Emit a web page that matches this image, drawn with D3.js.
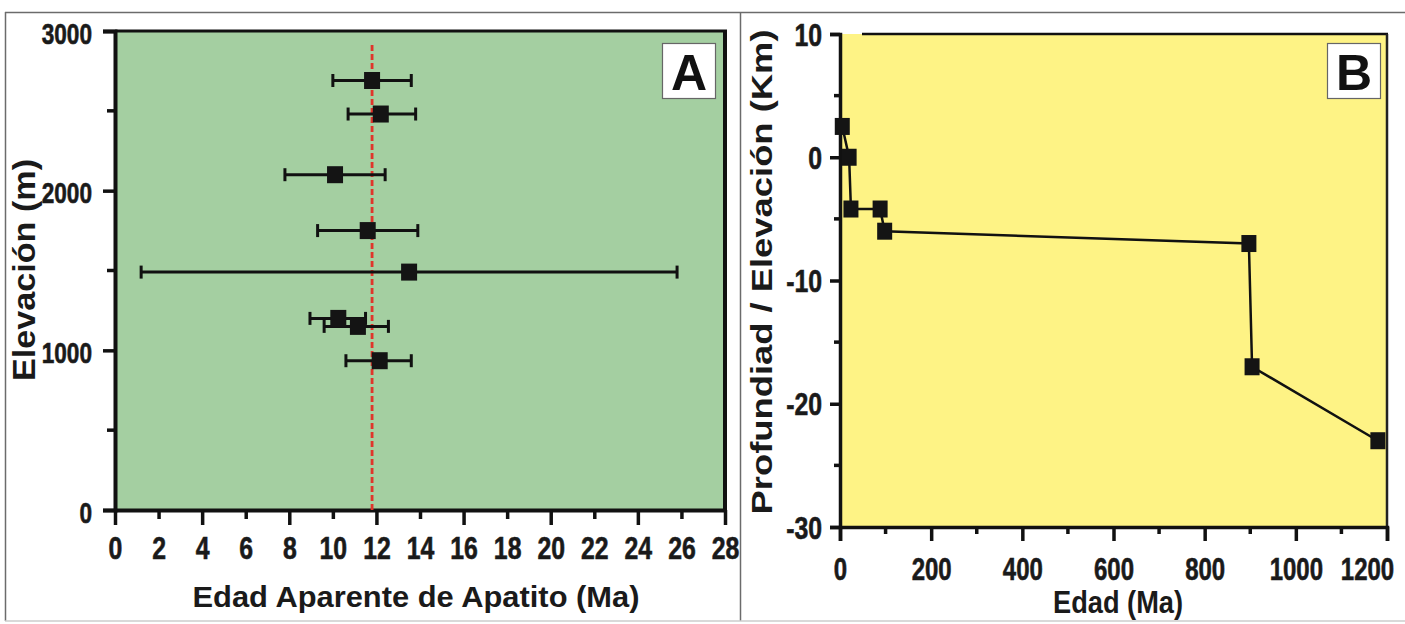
<!DOCTYPE html>
<html><head><meta charset="utf-8">
<script src="https://cdn.jsdelivr.net/npm/d3@7"></script>
<style>
body{margin:0;background:#fff;}
.narrow{font-family:"Liberation Sans",Arial,sans-serif;font-weight:bold;stroke:#1a1a1a;stroke-width:0.6px;}
.wide{font-family:"Liberation Sans",Arial,sans-serif;font-weight:bold;}
</style></head>
<body>
<svg id="c" width="1405" height="624"></svg>
<script>
// ---- Panel A data ----
const elevA   = [2690, 2480, 2100, 1750, 1490, 1200, 1150, 935];
const ageA    = [11.8, 12.2, 10.1, 11.6, 13.5, 10.25, 11.15, 12.15];
const errLoA  = [10.0, 10.7, 7.8, 9.3, 1.2, 8.95, 9.6, 10.6];
const errHiA  = [13.6, 13.8, 12.4, 13.9, 25.8, 11.5, 12.55, 13.6];
const meanAgeA = 11.8;
const xTicksA = [0,2,4,6,8,10,12,14,16,18,20,22,24,26,28];
const yTicksA = [0,1000,2000,3000];
const yMinorA = [500,1500,2500];
// ---- Panel B data ----
const ageB   = [5, 20, 24, 88, 98, 897, 904, 1180];
const depthB = [2.5, 0, -4.2, -4.2, -6, -7, -17, -23];
const xTicksB = [0,200,400,600,800,1000,1200];
const xMinorB = [100,300,500,700,900,1100];
const yTicksB = [10,0,-10,-20,-30];
const yMinorB = [5,-5,-15,-25];

function condense(sel, xPos, ns){
  ns = ns || 0.8;
  sel.attr("class","narrow").attr("x", xPos/ns).attr("transform",`scale(${ns},1)`);
}

const svg = d3.select("#c");
svg.append("rect").attr("width",1405).attr("height",624).attr("fill","#fff");

// outer frame
const fr = svg.append("g").attr("stroke","#6b6b6b").attr("stroke-width",1.5).attr("fill","none");
fr.append("line").attr("x1",5).attr("x2",1405).attr("y1",12.5).attr("y2",12.5);
fr.append("line").attr("x1",5.5).attr("x2",5.5).attr("y1",12).attr("y2",621);
fr.append("line").attr("x1",740.5).attr("x2",740.5).attr("y1",12).attr("y2",621);
fr.append("line").attr("x1",5).attr("x2",1405).attr("y1",621).attr("y2",621).attr("stroke","#ccc");

// ===== Panel A =====
const xA = d3.scaleLinear().domain([0,28]).range([115,725]);
const yA = d3.scaleLinear().domain([0,3000]).range([510,31]);
const gA = svg.append("g");
gA.append("rect").attr("x",xA(0)).attr("y",yA(3000)).attr("width",xA(28)-xA(0)).attr("height",yA(0)-yA(3000)).attr("fill","#a4cfa1");
gA.append("line").attr("x1",xA(0)).attr("x2",xA(28)+2).attr("y1",yA(3000)).attr("y2",yA(3000)).attr("stroke","#111").attr("stroke-width",3);
gA.append("line").attr("x1",xA(28)).attr("x2",xA(28)).attr("y1",yA(3000)).attr("y2",yA(0)).attr("stroke","#111").attr("stroke-width",4);

const axA = gA.append("g").attr("transform",`translate(0,${yA(0)})`)
  .call(d3.axisBottom(xA).tickValues(xTicksA).tickSize(0).tickPadding(0).tickFormat(d3.format("d")));
axA.select(".domain").attr("stroke","#111").attr("stroke-width",4);
axA.selectAll(".tick line").attr("y2",d=>d%4===0?15:9).attr("stroke","#111").attr("stroke-width",3.5);
axA.selectAll(".tick text").call(condense,0,0.8).attr("y",49).attr("dy",0).attr("font-size",31).attr("fill","#1a1a1a");

const ayA = gA.append("g").attr("transform",`translate(${xA(0)},0)`)
  .call(d3.axisLeft(yA).tickValues(yTicksA).tickSize(12).tickPadding(10).tickFormat(d3.format("d")));
ayA.select(".domain").attr("stroke","#111").attr("stroke-width",4);
ayA.selectAll(".tick line").attr("stroke","#111").attr("stroke-width",3.5);
ayA.selectAll(".tick text").call(condense,-23,0.78).attr("font-size",29).attr("dy","0.42em").attr("fill","#1a1a1a");
gA.append("g").selectAll("line").data(yMinorA).join("line")
  .attr("x1",xA(0)-8).attr("x2",xA(0)).attr("y1",d=>yA(d)).attr("y2",d=>yA(d)).attr("stroke","#111").attr("stroke-width",3.5);

gA.append("line").attr("x1",xA(meanAgeA)).attr("x2",xA(meanAgeA)).attr("y1",45).attr("y2",yA(0))
  .attr("stroke","#e0352b").attr("stroke-width",2.8).attr("stroke-dasharray","6,3");

const ptsA = elevA.map((e,i)=>({e, a:ageA[i], lo:errLoA[i], hi:errHiA[i]}));
const eb = gA.append("g").attr("stroke","#111").attr("stroke-width",3);
ptsA.forEach(p=>{
  eb.append("line").attr("x1",xA(p.lo)).attr("x2",xA(p.hi)).attr("y1",yA(p.e)).attr("y2",yA(p.e));
  eb.append("line").attr("x1",xA(p.lo)).attr("x2",xA(p.lo)).attr("y1",yA(p.e)-6.5).attr("y2",yA(p.e)+6.5);
  eb.append("line").attr("x1",xA(p.hi)).attr("x2",xA(p.hi)).attr("y1",yA(p.e)-6.5).attr("y2",yA(p.e)+6.5);
});
gA.append("g").selectAll("rect").data(ptsA).join("rect")
  .attr("x",p=>xA(p.a)-8).attr("y",p=>yA(p.e)-8.5).attr("width",16).attr("height",17).attr("fill","#141414");

gA.append("rect").attr("x",662.5).attr("y",43.5).attr("width",53).attr("height",55).attr("fill","#fff").attr("stroke","#666").attr("stroke-width",1.2);
gA.append("text").attr("class","wide").attr("x",689).attr("y",90).attr("text-anchor","middle").attr("font-size",50).attr("fill","#111").text("A");

gA.append("text").attr("class","wide").attr("transform","translate(35,270) rotate(-90)").attr("text-anchor","middle")
  .attr("font-size",31).attr("fill","#1a1a1a").attr("textLength",222).attr("lengthAdjust","spacingAndGlyphs").text("Elevación (m)");
gA.append("text").attr("class","wide").attr("x",416).attr("y",607).attr("text-anchor","middle")
  .attr("font-size",30).attr("fill","#1a1a1a").attr("textLength",447).attr("lengthAdjust","spacingAndGlyphs").text("Edad Aparente de Apatito (Ma)");

// ===== Panel B =====
const xB = d3.scaleLinear().domain([0,1200]).range([840,1387]);
const yB = d3.scaleLinear().domain([-30,10]).range([527,34]);
const gB = svg.append("g");
gB.append("rect").attr("x",xB(0)).attr("y",yB(10)).attr("width",xB(1200)-xB(0)).attr("height",yB(-30)-yB(10)).attr("fill","#fef385");
gB.append("line").attr("x1",xB(0)+22).attr("x2",xB(1200)+1).attr("y1",yB(10)).attr("y2",yB(10)).attr("stroke","#111").attr("stroke-width",2.5);
gB.append("line").attr("x1",xB(1200)).attr("x2",xB(1200)).attr("y1",yB(10)).attr("y2",yB(-30)).attr("stroke","#222").attr("stroke-width",2.5);

const axB = gB.append("g").attr("transform",`translate(0,${yB(-30)})`)
  .call(d3.axisBottom(xB).tickValues(xTicksB).tickSize(14).tickPadding(0).tickFormat(d3.format("d")));
axB.select(".domain").attr("stroke","#111").attr("stroke-width",3.5);
axB.selectAll(".tick line").attr("stroke","#111").attr("stroke-width",3.5);
axB.selectAll(".tick text").each(function(d){
  const shift = d===1200 ? -20 : 0;
  d3.select(this).call(condense,shift,0.75);
}).attr("y",53).attr("dy",0).attr("font-size",32).attr("fill","#1a1a1a");
gB.append("g").selectAll("line").data(xMinorB).join("line")
  .attr("x1",d=>xB(d)).attr("x2",d=>xB(d)).attr("y1",yB(-30)).attr("y2",yB(-30)+7).attr("stroke","#111").attr("stroke-width",3.5);

const ayB = gB.append("g").attr("transform",`translate(${xB(0)},0)`)
  .call(d3.axisLeft(yB).tickValues(yTicksB).tickSize(10).tickPadding(8).tickFormat(d3.format("d")));
ayB.select(".domain").attr("stroke","#111").attr("stroke-width",3.5);
ayB.selectAll(".tick line").attr("stroke","#111").attr("stroke-width",3.5);
ayB.selectAll(".tick text").call(condense,-18,0.8).attr("font-size",31).attr("dy","0.36em").attr("fill","#1a1a1a")
  .text(d=>d<0?"-"+Math.abs(d):String(d));
gB.append("g").selectAll("line").data(yMinorB).join("line")
  .attr("x1",xB(0)-6).attr("x2",xB(0)).attr("y1",d=>yB(d)).attr("y2",d=>yB(d)).attr("stroke","#111").attr("stroke-width",3.5);

const ptsB = ageB.map((a,i)=>({a, d:depthB[i]}));
gB.append("path").datum(ptsB).attr("fill","none").attr("stroke","#111").attr("stroke-width",2.5)
  .attr("d", d3.line().x(p=>xB(p.a)).y(p=>yB(p.d)));
gB.append("g").selectAll("rect").data(ptsB).join("rect")
  .attr("x",p=>xB(p.a)-7.5).attr("y",p=>yB(p.d)-8.5).attr("width",15).attr("height",17).attr("fill","#141414");

gB.append("rect").attr("x",1327.5).attr("y",43.5).attr("width",53).attr("height",55).attr("fill","#fff").attr("stroke","#666").attr("stroke-width",1.2);
gB.append("text").attr("class","wide").attr("x",1354).attr("y",90).attr("text-anchor","middle").attr("font-size",50).attr("fill","#111").text("B");

gB.append("text").attr("class","wide").attr("transform","translate(772,272) rotate(-90)").attr("text-anchor","middle")
  .attr("font-size",29).attr("fill","#1a1a1a").attr("textLength",485).attr("lengthAdjust","spacingAndGlyphs").text("Profundiad / Elevación (Km)");
gB.append("text").attr("class","wide").attr("x",1118).attr("y",613).attr("text-anchor","middle")
  .attr("font-size",31).attr("fill","#1a1a1a").attr("textLength",130).attr("lengthAdjust","spacingAndGlyphs").text("Edad (Ma)");
</script>
</body></html>
